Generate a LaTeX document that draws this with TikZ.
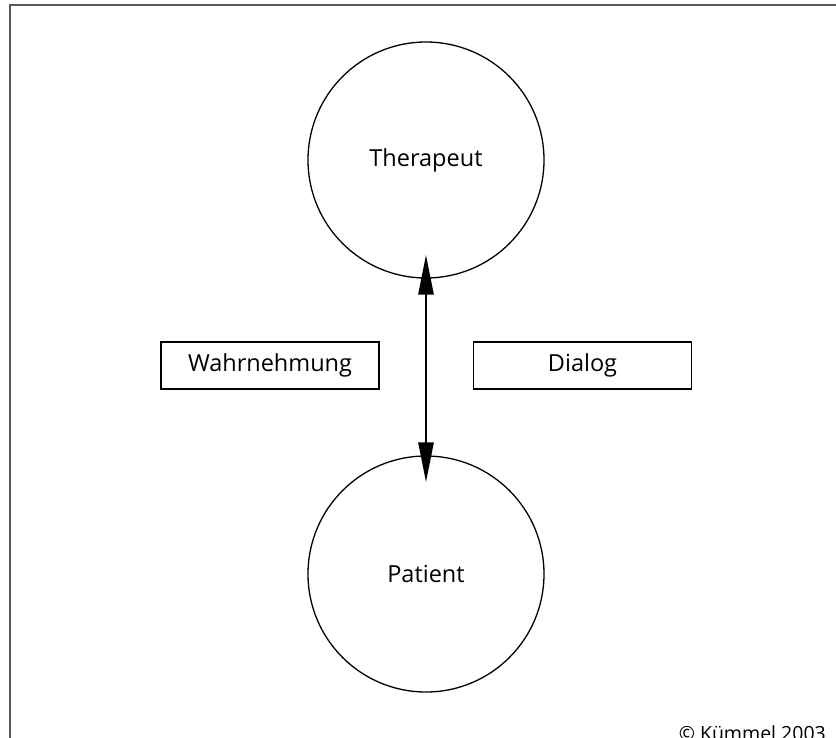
\documentclass[tikz,border=0pt]{standalone}
\usepackage{fontspec}
\setmainfont{Open Sans}
\usetikzlibrary{arrows.meta}
\begin{document}
\begin{tikzpicture}[x=1pt,y=-1pt,
  role/.style={draw=black,line width=1.3pt,circle,minimum size=236pt,inner sep=0pt,font=\fontsize{23.5}{27}\selectfont},
  label box/.style={draw=black,line width=1.3pt,minimum width=218pt,minimum height=47pt,inner sep=0pt,font=\fontsize{23.5}{27}\selectfont},
  link/.style={line width=2.8pt,{Triangle[length=40pt,width=15pt]}-{Triangle[length=40pt,width=15pt]},shorten <=-24pt,shorten >=-27pt},
  frame/.style={draw=black!65,line width=2pt}]
  \useasboundingbox (0,0) rectangle (836,737);
  % open frame: top and left edges only
  \draw[frame] (10,739) -- (10,5) -- (837,5);
  % participants
  \node[role] (therapist) at (426,160) {Therapeut};
  \node[role] (patient) at (426,574) {Patient};
  % two-way exchange
  \draw[link] (therapist.south) -- (patient.north);
  % aspects of the relationship
  \node[label box] (perception) at (270,365.5) {Wahrnehmung};
  \node[label box] (dialogue) at (582.5,365.5) {Dialog};
  % credit line
  \node[anchor=base east,inner sep=0pt,font=\fontsize{19.5}{23}\selectfont] (credit) at (826,740) {© Kümmel 2003};
\end{tikzpicture}
\end{document}
